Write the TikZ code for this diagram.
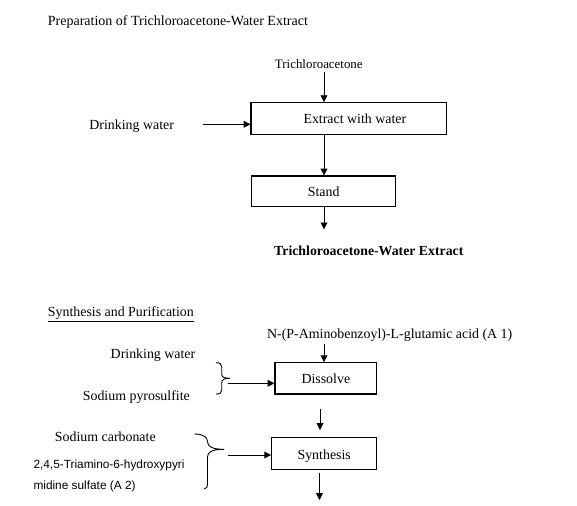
\documentclass[tikz,border=0pt]{standalone}
\usepackage{fontspec}
\setmainfont{Liberation Serif}
\newfontfamily\arialf{Liberation Sans}
\usetikzlibrary{arrows.meta}
\begin{document}
\begin{tikzpicture}[x=1pt,y=-1pt,
  lbl/.style={inner sep=0pt,text height=10pt,text depth=0pt,font=\fontsize{13.9}{16}\selectfont},
  sans/.style={inner sep=0pt,anchor=west,text height=8.6pt,text depth=0pt,font=\arialf\fontsize{11.85}{14}\selectfont},
  procbox/.style={draw,line width=1.2pt,inner sep=0pt,text height=11pt,text depth=0pt,font=\fontsize{13.9}{16}\selectfont},
  arr/.style={line width=0.9pt,-{Triangle[length=6.8pt,width=6.8pt]}},
  bracel/.style={line width=0.9pt}]
\useasboundingbox (0,0) rectangle (577,505);
% Section 1
\node[lbl,anchor=west,font=\fontsize{14}{16}\selectfont] (t1) at (47.7,20.7) {Preparation of Trichloroacetone-Water Extract};
\node[lbl,font=\fontsize{12.9}{15}\selectfont] (tca) at (318.8,63.3) {Trichloroacetone};
\node[procbox,minimum width=195.7pt,minimum height=31.6pt] (ext) at (348.85,118.5) {\hspace*{12pt}Extract with water};
\node[procbox,minimum width=144pt,minimum height=30.7pt] (stand) at (323.7,191.35) {Stand};
\node[lbl] (dw1) at (131.7,125) {Drinking water};
\node[lbl,font=\bfseries\fontsize{13.8}{16}\selectfont] (twe) at (368.8,250) {Trichloroacetone-Water Extract};
\coordinate (tcaout) at (324,71.7);
\coordinate (dw1out) at (203,124.3);
\coordinate (out1) at (324,229.3);
\draw[arr] (tcaout) -- (tcaout |- ext.north);
\draw[arr] (dw1out) -- (dw1out -| ext.west);
\draw[arr] (ext.south -| tcaout) -- (tcaout |- stand.north);
\draw[arr] (stand.south -| tcaout) -- (out1);
% Section 2
\node[lbl,anchor=west] (t2) at (47.7,311.7) {\underline{Synthesis and Purification}};
\node[lbl] (a1) at (389.7,333.3) {N-(P-Aminobenzoyl)-L-glutamic acid (A 1)};
\node[procbox,minimum width=101.7pt,minimum height=31.3pt] (dis) at (325.85,378.35) {Dissolve};
\node[lbl] (dw2) at (153,353.3) {Drinking water};
\node[lbl] (spy) at (136.3,395) {Sodium pyrosulfite};
\node[procbox,minimum width=105pt,minimum height=31.6pt] (syn) at (324.2,453.5) {Synthesis};
\node[lbl] (sc) at (105.3,436.7) {Sodium carbonate};
\node[sans] (tri1) at (33.3,464) {2,4,5-Triamino-6-hydroxypyri};
\node[sans] (tri2) at (33.3,485) {midine sulfate (A 2)};
\coordinate (a1out) at (324,344);
\draw[arr] (a1out) -- (a1out |- dis.north);
% brace 1
\draw[bracel] (216,362.7) .. controls (220,362.7) and (221.7,364) .. (221.7,367)
  -- (221.7,374) .. controls (221.7,377) and (224,378.3) .. (230,378.3)
  .. controls (224,378.3) and (221.7,379.6) .. (221.7,383)
  -- (221.7,390) .. controls (221.7,393) and (220,394) .. (216,394);
\coordinate (b1) at (227.7,383.3);
\draw[arr] (b1) -- (b1 -| dis.west);
\coordinate (mid1) at (320,409.3);
\coordinate (mid2) at (320,430);
\draw[arr] (mid1) -- (mid2);
% brace 2
\draw[bracel] (194.3,434) .. controls (203,434) and (207.5,437) .. (207.5,441.5)
  .. controls (207.5,446.5) and (212,449.3) .. (224,449.3)
  .. controls (212,449.3) and (207.5,452) .. (207.5,457)
  -- (207.5,483) .. controls (207.5,487) and (206.5,489) .. (204,489);
\coordinate (b2) at (228.3,455);
\draw[arr] (b2) -- (b2 -| syn.west);
\coordinate (out2a) at (319.5,472.7);
\coordinate (out2b) at (319.5,500);
\draw[arr] (out2a) -- (out2b);
\end{tikzpicture}
\end{document}
